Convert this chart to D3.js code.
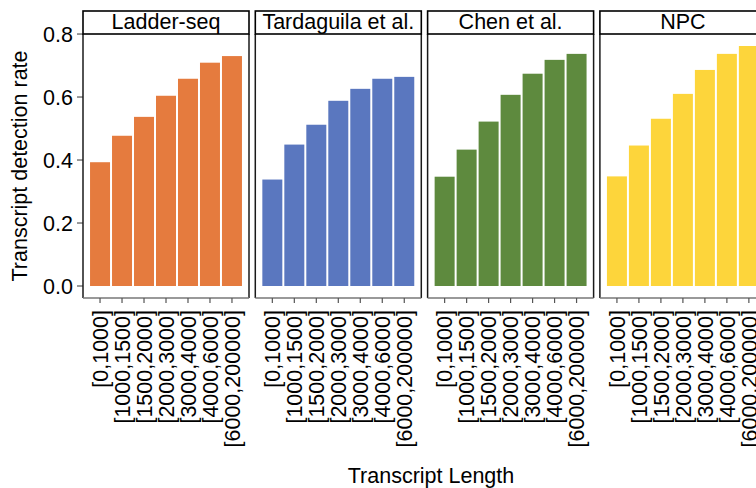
<!DOCTYPE html>
<html>
<head>
<meta charset="utf-8">
<script src="https://cdn.jsdelivr.net/npm/d3@7"></script>
<style>
  body { margin: 0; background: #fff; }
  text { font-family: "Liberation Sans", Arial, sans-serif; fill: #000; }
</style>
</head>
<body>
<svg id="chart" width="756" height="488"></svg>
<script>
// data
var methods = ["Ladder-seq", "Tardaguila et al.", "Chen et al.", "NPC"];
var lengthBins = ["[0,1000]", "[1000,1500]", "[1500,2000]", "[2000,3000]",
                  "[3000,4000]", "[4000,6000]", "[6000,200000]"];
var ladderseq  = [0.393, 0.477, 0.537, 0.604, 0.658, 0.709, 0.730];
var tardaguila = [0.338, 0.449, 0.512, 0.588, 0.626, 0.658, 0.664];
var chen       = [0.347, 0.433, 0.522, 0.607, 0.674, 0.718, 0.737];
var npc        = [0.348, 0.446, 0.531, 0.610, 0.686, 0.737, 0.762];
var yTicks = [0, 0.2, 0.4, 0.6, 0.8];
var colors = ["#e57b3e", "#5a77bf", "#5e8a3e", "#fdd53b"];

var series = [ladderseq, tardaguila, chen, npc];

var svg = d3.select("#chart");
var fontSize = 21.5;

var panelLeft = 83, panelStep = 172.3, panelW = 166;
var panelTop = 34, panelBottom = 298, stripTop = 11;

var maxVal = d3.max(series, function(s){ return d3.max(s); });
var y = d3.scaleLinear()
  .domain([-0.05 * maxVal, 1.05 * maxVal])
  .range([panelBottom, panelTop]);

var x = d3.scaleBand()
  .domain(lengthBins)
  .range([0, panelW])
  .paddingInner(1 / 11)
  .paddingOuter(0.32);

// y axis
var yAxis = svg.append("g").attr("transform", "translate(" + panelLeft + ",0)");
yAxis.selectAll("line").data(yTicks).enter().append("line")
  .attr("x1", -6).attr("x2", 0)
  .attr("y1", function(d){ return y(d); })
  .attr("y2", function(d){ return y(d); })
  .attr("stroke", "#555").attr("stroke-width", 1.2);
yAxis.selectAll("text").data(yTicks).enter().append("text")
  .attr("x", -10)
  .attr("y", function(d){ return y(d); })
  .attr("dy", "0.36em")
  .attr("text-anchor", "end")
  .style("font-size", fontSize + "px")
  .text(function(d){ return d3.format(".1f")(d); });

svg.append("text")
  .attr("transform", "translate(27," + (panelTop + panelBottom) / 2 + ") rotate(-90)")
  .attr("text-anchor", "middle")
  .style("font-size", fontSize + "px")
  .text("Transcript detection rate");

svg.append("text")
  .attr("x", 431).attr("y", 483)
  .attr("text-anchor", "middle")
  .style("font-size", fontSize + "px")
  .text("Transcript Length");

methods.forEach(function(name, i){
  var g = svg.append("g")
    .attr("transform", "translate(" + (panelLeft + i * panelStep) + ",0)");

  g.selectAll("rect.bar").data(series[i]).enter().append("rect")
    .attr("class", "bar")
    .attr("x", function(d, j){ return x(lengthBins[j]); })
    .attr("y", function(d){ return y(d); })
    .attr("width", x.bandwidth())
    .attr("height", function(d){ return y(0) - y(d); })
    .attr("fill", colors[i]);

  // panel frame
  g.append("line").attr("x1", 0).attr("x2", 0)
    .attr("y1", panelTop).attr("y2", panelBottom)
    .attr("stroke", "#1a1a1a").attr("stroke-width", 1.5);
  g.append("line").attr("x1", panelW).attr("x2", panelW)
    .attr("y1", panelTop).attr("y2", panelBottom)
    .attr("stroke", "#1a1a1a").attr("stroke-width", 1.5);
  g.append("line").attr("x1", 0).attr("x2", panelW)
    .attr("y1", panelBottom).attr("y2", panelBottom)
    .attr("stroke", "#777").attr("stroke-width", 1.6);

  // strip
  g.append("rect")
    .attr("x", 0).attr("y", stripTop)
    .attr("width", panelW).attr("height", panelTop - stripTop)
    .attr("fill", "#fff").attr("stroke", "#000").attr("stroke-width", 1.6);
  g.append("text")
    .attr("x", panelW / 2).attr("y", panelTop - 5)
    .attr("text-anchor", "middle")
    .style("font-size", fontSize + "px")
    .text(name);

  // x ticks + labels
  g.selectAll("line.tick").data(lengthBins).enter().append("line")
    .attr("class", "tick")
    .attr("x1", function(d){ return x(d) + x.bandwidth() / 2; })
    .attr("x2", function(d){ return x(d) + x.bandwidth() / 2; })
    .attr("y1", panelBottom).attr("y2", panelBottom + 5)
    .attr("stroke", "#555").attr("stroke-width", 1.2);
  g.selectAll("text.xl").data(lengthBins).enter().append("text")
    .attr("class", "xl")
    .attr("transform", function(d){
      return "translate(" + (x(d) + x.bandwidth() / 2) + "," + (panelBottom + 12) + ") rotate(-90)";
    })
    .attr("dy", "0.36em")
    .attr("text-anchor", "end")
    .style("font-size", fontSize + "px")
    .text(function(d){ return d; });
});
</script>
</body>
</html>
